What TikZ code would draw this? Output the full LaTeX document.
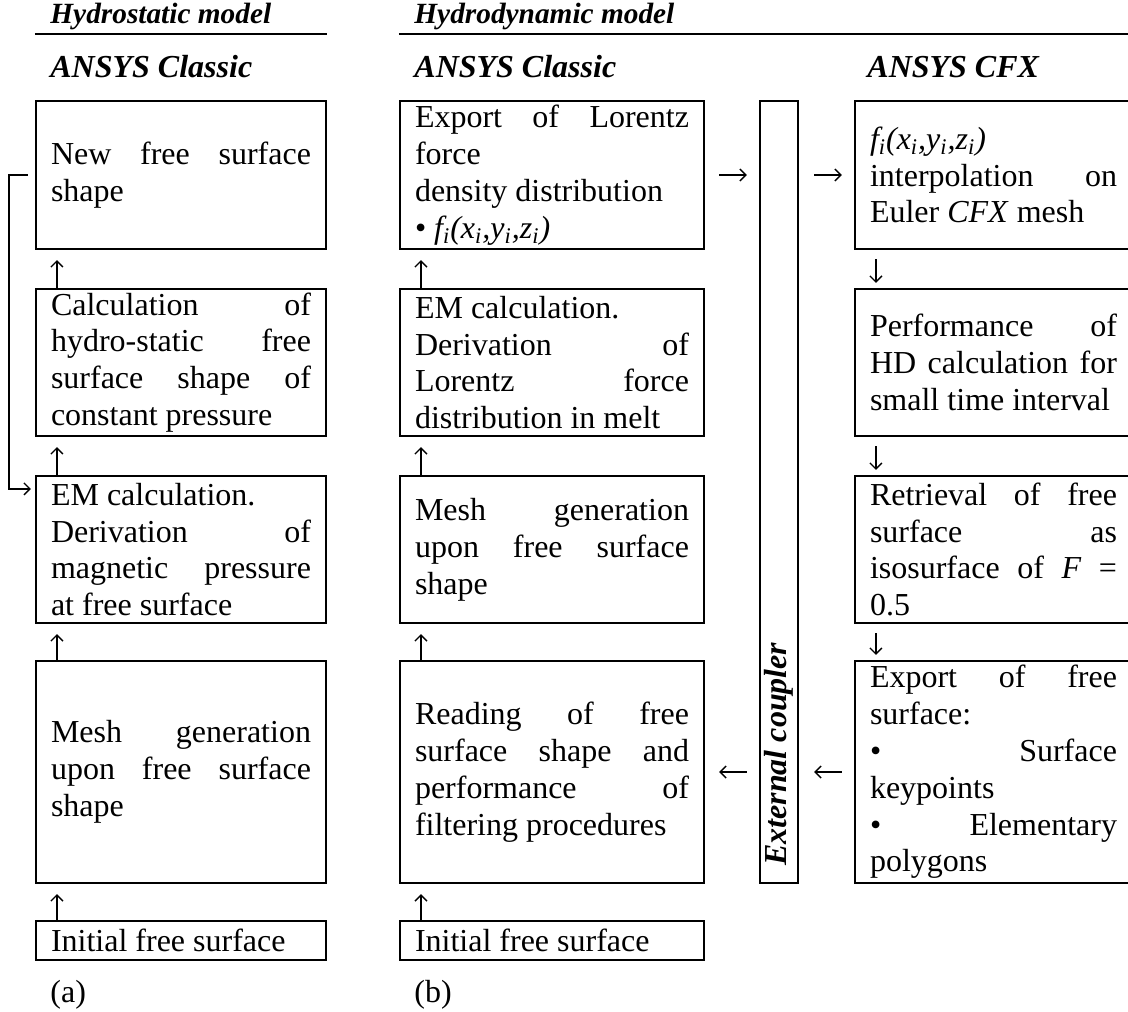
\documentclass[tikz,border=0pt]{standalone}
\usepackage{fontspec}
\setmainfont{Liberation Serif}
\usepackage{tikz}
\usetikzlibrary{arrows.meta}
\newcommand{\cellfont}{\fontsize{16}{18.4}\selectfont\hyphenpenalty=10000\exhyphenpenalty=10000\tolerance=10000\hbadness=10000}
\newcommand{\headfont}{\fontsize{14.67}{17}\selectfont\bfseries\itshape}
\newcommand{\subfont}{\fontsize{16}{18.4}\selectfont\bfseries\itshape}
\newcommand{\fxyz}{\textit{f\textsubscript{i}(x\textsubscript{i},y\textsubscript{i},z\textsubscript{i})}}
\pgfkeys{tikz/mybox/.style={draw, line width=1.1pt, inner xsep=7.5pt, inner ysep=1pt,
                                align=justify, font=\cellfont}}
\pgfkeys{tikz/statcol/.style={mybox, text width=130pt}}
\pgfkeys{tikz/dyncol/.style={mybox, text width=137pt}}
\pgfkeys{tikz/cfxcol/.style={mybox, text width=123.5pt}}
\pgfkeys{tikz/myhead/.style={inner sep=0pt, anchor=base west, font=\headfont}}
\pgfkeys{tikz/mysub/.style={inner sep=0pt, anchor=base west, font=\subfont}}
\pgfkeys{tikz/mylabel/.style={inner sep=0pt, anchor=base west, font=\cellfont}}
\pgfkeys{tikz/myarrow/.style={-{Straight Barb[length=3pt,width=6pt]}, line width=0.7pt}}

\begin{document}
\begin{tikzpicture}[x=0.5pt, y=-0.5pt]
                \useasboundingbox (0,0) rectangle (1128,1011);
                \clip (0,0) rectangle (1128,1011);

                \node[myhead] (hstat) at (50,24) {Hydrostatic model};
                \node[myhead] (hdyn) at (414,24) {Hydrodynamic model};
                \coordinate (rule) at (0,34);
                \coordinate (edge) at (1140,34);

                \node[mysub] (ac1) at (50,77) {ANSYS Classic};
                \node[mysub] (ac2) at (414,77) {ANSYS Classic};
                \node[mysub] (acfx) at (867,77) {ANSYS CFX};

                \node[statcol, minimum height=74pt] (s1) at (181,175) {New free surface\linebreak shape};
                \node[statcol, minimum height=73.5pt] (s2) at (181,362.5) {Calculation of\linebreak hydro-static free\linebreak surface shape of\linebreak constant pressure};
                \node[statcol, minimum height=73.5pt] (s3) at (181,549.5) {EM calculation.\\Derivation of\linebreak magnetic pressure\linebreak at free surface};
                \node[statcol, minimum height=111pt] (s4) at (181,772) {Mesh generation\linebreak upon free surface\linebreak shape};
                \node[statcol, minimum height=19.5pt] (s5) at (181,940.5) {Initial free surface};

                \draw[line width=1pt] (rule -| s1.west) -- (rule -| s1.east);

                \draw[myarrow, shorten >=5pt] ([xshift=11pt]s2.north west) -- ([xshift=11pt]s1.south west);
                \draw[myarrow, shorten >=5pt] ([xshift=11pt]s3.north west) -- ([xshift=11pt]s2.south west);
                \draw[myarrow, shorten >=5pt] ([xshift=11pt]s4.north west) -- ([xshift=11pt]s3.south west);
                \draw[myarrow, shorten >=5pt] ([xshift=11pt]s5.north west) -- ([xshift=11pt]s4.south west);
                \draw[myarrow] ([xshift=-3.5pt]s1.west) -- ++(-9.5pt,0) |- ([xshift=-2pt,yshift=-7pt]s3.north west);

                \node[dyncol, minimum height=74pt] (d1) at (552,175) {Export of Lorentz\linebreak force\\density distribution\\\textbullet\ \fxyz};
                \node[dyncol, minimum height=73.5pt] (d2) at (552,362.5) {EM calculation.\\Derivation of\linebreak Lorentz force\linebreak distribution in melt};
                \node[dyncol, minimum height=73.5pt] (d3) at (552,549.5) {Mesh generation\linebreak upon free surface\linebreak shape};
                \node[dyncol, minimum height=111pt] (d4) at (552,772) {Reading of free\linebreak surface shape and\linebreak performance of\linebreak filtering procedures};
                \node[dyncol, minimum height=19.5pt] (d5) at (552,940.5) {Initial free surface};

                \draw[line width=1pt] (rule -| d1.west) -- (edge);

                \draw[myarrow, shorten >=5pt] ([xshift=11pt]d2.north west) -- ([xshift=11pt]d1.south west);
                \draw[myarrow, shorten >=5pt] ([xshift=11pt]d3.north west) -- ([xshift=11pt]d2.south west);
                \draw[myarrow, shorten >=5pt] ([xshift=11pt]d4.north west) -- ([xshift=11pt]d3.south west);
                \draw[myarrow, shorten >=5pt] ([xshift=11pt]d5.north west) -- ([xshift=11pt]d4.south west);

                \node[draw, line width=1.1pt, minimum width=19pt, minimum height=391pt, inner sep=0pt] (cpl) at (779,492) {};
                \node[mysub, anchor=west, rotate=90] (cpltext) at ([yshift=9pt]cpl.south) {External coupler};

                \node[cfxcol, minimum height=74pt] (c1) at (993.5,175) {\fxyz\\interpolation on\linebreak Euler \textit{CFX} mesh};
                \node[cfxcol, minimum height=73.5pt] (c2) at (993.5,362.5) {Performance of\linebreak HD calculation for\linebreak small time interval};
                \node[cfxcol, minimum height=73.5pt] (c3) at (993.5,549.5) {Retrieval of free\linebreak surface as\linebreak isosurface of \textit{F} =\linebreak 0.5};
                \node[cfxcol, minimum height=111pt] (c4) at (993.5,772) {Export of free\linebreak surface:\\\textbullet\ Surface\linebreak keypoints\\\textbullet\ Elementary\linebreak polygons};

                \draw[myarrow, shorten <=4.5pt, shorten >=2.5pt] ([xshift=11pt]c1.south west) -- ([xshift=11pt]c2.north west);
                \draw[myarrow, shorten <=4.5pt, shorten >=2.5pt] ([xshift=11pt]c2.south west) -- ([xshift=11pt]c3.north west);
                \draw[myarrow, shorten <=4.5pt, shorten >=2.5pt] ([xshift=11pt]c3.south west) -- ([xshift=11pt]c4.north west);

                \draw[myarrow, shorten <=7pt, shorten >=6pt] (d1.east) -- (d1.east -| cpl.west);
                \draw[myarrow, shorten <=7.5pt, shorten >=6pt] (c1.west -| cpl.east) -- (c1.west);
                \draw[myarrow, shorten <=6pt, shorten >=7pt] (d4.east -| cpl.west) -- (d4.east);
                \draw[myarrow, shorten <=6pt, shorten >=7.5pt] (c4.west) -- (c4.west -| cpl.east);

                \node[mylabel] (la) at (50,1002) {(a)};
                \node[mylabel] (lb) at (414,1002) {(b)};
\end{tikzpicture}
\end{document}
